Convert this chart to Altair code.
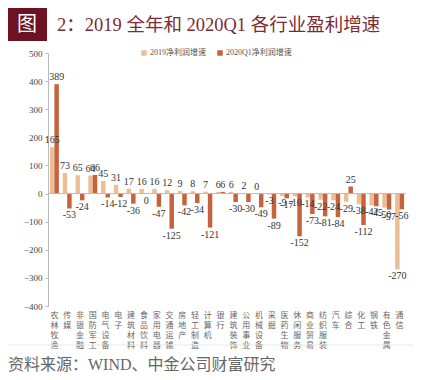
import altair as alt
import pandas as pd

cats = ["农林牧渔", "传媒", "非银金融", "国防军工", "电气设备", "电子", "建筑材料",
        "食品饮料", "家用电器", "交通运输", "房地产", "轻工制造", "计算机", "银行",
        "建筑装饰", "公用事业", "机械设备", "采掘", "医药生物", "休闲服务", "商业贸易",
        "纺织服装", "汽车", "综合", "化工", "钢铁", "有色金属", "通信"]
series = ["2019净利润增速", "2020Q1净利润增速"]
v2019 = [165, 73, 65, 64, 45, 31, 17, 16, 16, 12, 9, 8, 7, 6, 6, 2, 0, -3, -9, -10,
         -14, -22, -24, -29, -38, -42, -50, -270]
vq1 = [389, -53, -24, 66, -14, -12, -36, -0.3, -47, -125, -42, -34, -121, 6, -30, -30,
       -49, -89, -17, -152, -73, -81, -84, 25, -112, -45, -57, -56]
colors = ["#EBBE94", "#C7623F"]
y_ticks = list(range(-400, 501, 100))
title_text = "2：2019 全年和 2020Q1 各行业盈利增速"
source_text = "资料来源：WIND、中金公司财富研究"

rows = []
for c, a, b in zip(cats, v2019, vq1):
    rows.append({"cat": c, "series": series[0], "value": a, "label": str(int(round(a)))})
    rows.append({"cat": c, "series": series[1], "value": b, "label": str(int(round(b)))})
df = pd.DataFrame(rows)

W, H = 358, 253
serif = "Liberation Serif, Noto Sans CJK SC"
cjk = "Noto Sans CJK SC"

x_enc = alt.X("cat:N", sort=cats, title=None,
              scale=alt.Scale(paddingInner=0.3, paddingOuter=0.15),
              axis=alt.Axis(labelExpr="split(datum.label, '')", labelAngle=0,
                            labelAlign="center", labelBaseline="top",
                            labelLineHeight=10, labelFontSize=8, labelColor="#666",
                            labelFont=cjk, labelPadding=5, ticks=False, domain=False,
                            labelOverlap=False))
xoff = alt.XOffset("series:N", sort=series)
y_enc = alt.Y("value:Q", title=None,
              scale=alt.Scale(domain=[-400, 500], nice=False),
              axis=alt.Axis(values=y_ticks, grid=False, labelFont=serif, labelFontSize=9,
                            labelColor="#444", domainColor="#BBBBBB", tickColor="#BBBBBB",
                            tickSize=3, labelPadding=3, labelOverlap=False))
color = alt.Color("series:N",
                  scale=alt.Scale(domain=series, range=colors),
                  legend=alt.Legend(title=None, orient="none", legendX=92, legendY=-4,
                                    direction="horizontal", symbolType="square",
                                    symbolSize=30, labelFontSize=8, labelFont=serif,
                                    labelColor="#555", columnPadding=10,
                                    symbolStrokeWidth=0, labelOffset=2))

base = alt.Chart(df)
bars = base.mark_bar().encode(x=x_enc, xOffset=xoff, y=y_enc, color=color)
tpos = base.transform_filter("datum.value >= 0").mark_text(
    baseline="bottom", dy=-2, font=serif, fontSize=10, color="#333"
).encode(x=x_enc, xOffset=xoff, y=y_enc, text="label:N")
tneg = base.transform_filter("datum.value < 0").mark_text(
    baseline="top", dy=2, font=serif, fontSize=10, color="#333"
).encode(x=x_enc, xOffset=xoff, y=y_enc, text="label:N")

zero = alt.Chart(pd.DataFrame({"value": [0]})).mark_rule(color="#BBBBBB").encode(
    y=y_enc)

one = pd.DataFrame({"t": [title_text]})
box = alt.Chart(one).mark_rect(color="#6D1222").encode(
    x=alt.value(-40), x2=alt.value(-1), y=alt.value(-45), y2=alt.value(-12))
tu = alt.Chart(one).mark_text(color="white", fontSize=20, font=cjk,
                              baseline="middle", align="center").encode(
    x=alt.value(-21), y=alt.value(-28), text=alt.value("图"))
ttl = alt.Chart(one).mark_text(align="left", baseline="middle", fontSize=18.5,
                               color="#7B2B36", font=serif).encode(
    x=alt.value(9), y=alt.value(-28), text=alt.value(title_text))
sep = alt.Chart(one).mark_rule(color="#E8E8E8").encode(
    x=alt.value(-40), x2=alt.value(W + 8), y=alt.value(292))
src = alt.Chart(one).mark_text(align="left", baseline="middle", fontSize=16,
                               color="#666", font=serif).encode(
    x=alt.value(-40), y=alt.value(312), text=alt.value(source_text))

chart = alt.layer(bars, zero, tpos, tneg, box, tu, ttl, sep, src).properties(
    width=W, height=H,
    padding={"left": 40, "top": 45, "right": 10, "bottom": 72},
    autosize=alt.AutoSizeParams(type="none"),
).configure_view(stroke=None)

chart.save("out.html", embed_options={"renderer": "svg", "actions": False})
